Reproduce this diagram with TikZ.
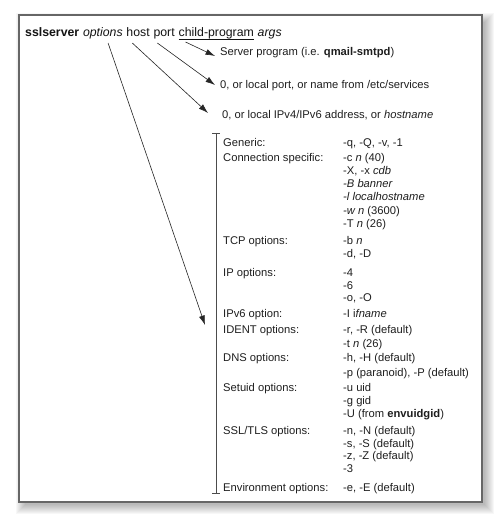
\documentclass[tikz,border=0pt]{standalone}
\usepackage{fontspec}
\setmainfont{Liberation Sans}
\usetikzlibrary{arrows.meta,calc}
\begin{document}
\begin{tikzpicture}[x=1bp,y=-1bp,
  txt/.style={anchor=base west,inner sep=0pt,text=black!88,font=\fontsize{11.2bp}{13bp}\selectfont},
  ttl/.style={anchor=base west,inner sep=0pt,text=black!92,font=\fontsize{12.3bp}{14bp}\selectfont},
  arr/.style={draw=black!85,line width=0.6bp,-{Latex[length=9.5bp,width=6bp]}},
  brk/.style={draw=black!70,line width=0.7bp}]
\useasboundingbox (0,0) rectangle (500,525);
% shadow
\foreach \r in {7,6,5,4,3,2,1,0,-1,-2}{
  \fill[black,opacity=0.03] (23-\r,20-\r) rectangle (487+\r,507+\r);
}
\draw[fill=white,draw=black!60,line width=1.3bp] (19,15) rectangle (482,502);
% title
\node[ttl] (w1) at (25,37) {\textbf{sslserver}};
\node[ttl] (w2) at ($(w1.base east)+(3.4,0)$) {\textit{options}};
\node[ttl] (w3) at ($(w2.base east)+(3.4,0)$) {host};
\node[ttl] (w4) at ($(w3.base east)+(3.4,0)$) {port};
\node[ttl] (w5) at ($(w4.base east)+(3.6,0)$) {child-program};
\draw[draw=black!92,line width=0.6bp] ($(w5.base west)+(0,2)$) -- ($(w5.base east)+(0,2)$);
\node[ttl] (w6) at ($(w5.base east)+(3.4,0)$) {\textit{args}};
% right labels
\node[txt] (r1) at (220,56) {Server program (i.e. \textbf{qmail-smtpd})};
\node[txt] (r2) at (220,89) {0, or local port, or name from /etc/services};
\node[txt] (r3) at (222,119) {0, or local IPv4/IPv6 address, or \textit{hostname}};
% bracket
\coordinate (bt) at (216,133);
\coordinate (bb) at (216,493);
\draw[brk] (bt) -- (bb);
\draw[brk] ($(bt)+(-4,0)$) -- ($(bt)+(4,0)$);
\draw[brk] ($(bb)+(-4,0)$) -- ($(bb)+(4,0)$);
% table
\foreach \n/\y/\t in {
  a/147/{Generic:},
  b/162/{Connection specific:},
  c/244/{TCP options:},
  d/276/{IP options:},
  e/317/{IPv6 option:},
  f/333/{IDENT options:},
  g/361/{DNS options:},
  h/391/{Setuid options:},
  i/434/{SSL/TLS options:},
  j/491/{Environment options:}}{
  \node[txt] (l\n) at (223,\y) {\t};
}
\node[txt] (v1) at (343,147) {-q, -Q, -v, -1};
\node[txt] (v2) at (343,162) {-c \textit{n} (40)};
\node[txt] (v3) at (343,175) {-X, -x \textit{cdb}};
\node[txt] (v4) at (343,188) {\textit{-B banner}};
\node[txt] (v5) at (343,201) {\textit{-l localhostname}};
\node[txt] (v6) at (343,214) {\textit{-w n} (3600)};
\node[txt] (v7) at (343,227) {-T \textit{n} (26)};
\node[txt] (v8) at (343,244) {-b \textit{n}};
\node[txt] (v9) at (343,257) {-d, -D};
\node[txt] (v10) at (343,276) {-4};
\node[txt] (v11) at (343,289) {-6};
\node[txt] (v12) at (343,301) {-o, -O};
\node[txt] (v13) at (343,317) {-I i\textit{fname}};
\node[txt] (v14) at (343,333) {-r, -R (default)};
\node[txt] (v15) at (343,347) {-t \textit{n} (26)};
\node[txt] (v16) at (343,361) {-h, -H (default)};
\node[txt] (v17) at (343,376) {-p (paranoid), -P (default)};
\node[txt] (v18) at (343,391) {-u uid};
\node[txt] (v19) at (343,404) {-g gid};
\node[txt] (v20) at (343,417) {-U (from \textbf{envuidgid})};
\node[txt] (v21) at (343,434) {-n, -N (default)};
\node[txt] (v22) at (343,447) {-s, -S (default)};
\node[txt] (v23) at (343,459) {-z, -Z (default)};
\node[txt] (v24) at (343,472) {-3};
\node[txt] (v25) at (343,491) {-e, -E (default)};
% arrows
\coordinate (sOpt) at ($(w2.base west)!0.63!(w2.base east)+(0,6)$);
\coordinate (sHost) at ($(w3.base west)+(6,6)$);
\coordinate (sPort) at ($(w4.base west)+(4,6)$);
\coordinate (sChild) at ($(w5.base west)+(7,5)$);
\coordinate (tOpt) at (205,325);
\draw[arr] (sOpt) -- (tOpt);
\draw[arr] (sHost) -- ($(r3.base west)+(-14,-6)$);
\draw[arr] (sPort) -- ($(r2.base west)+(-5,-4)$);
\draw[arr] (sChild) -- ($(r1.base west)+(-5,0)$);
\end{tikzpicture}
\end{document}
